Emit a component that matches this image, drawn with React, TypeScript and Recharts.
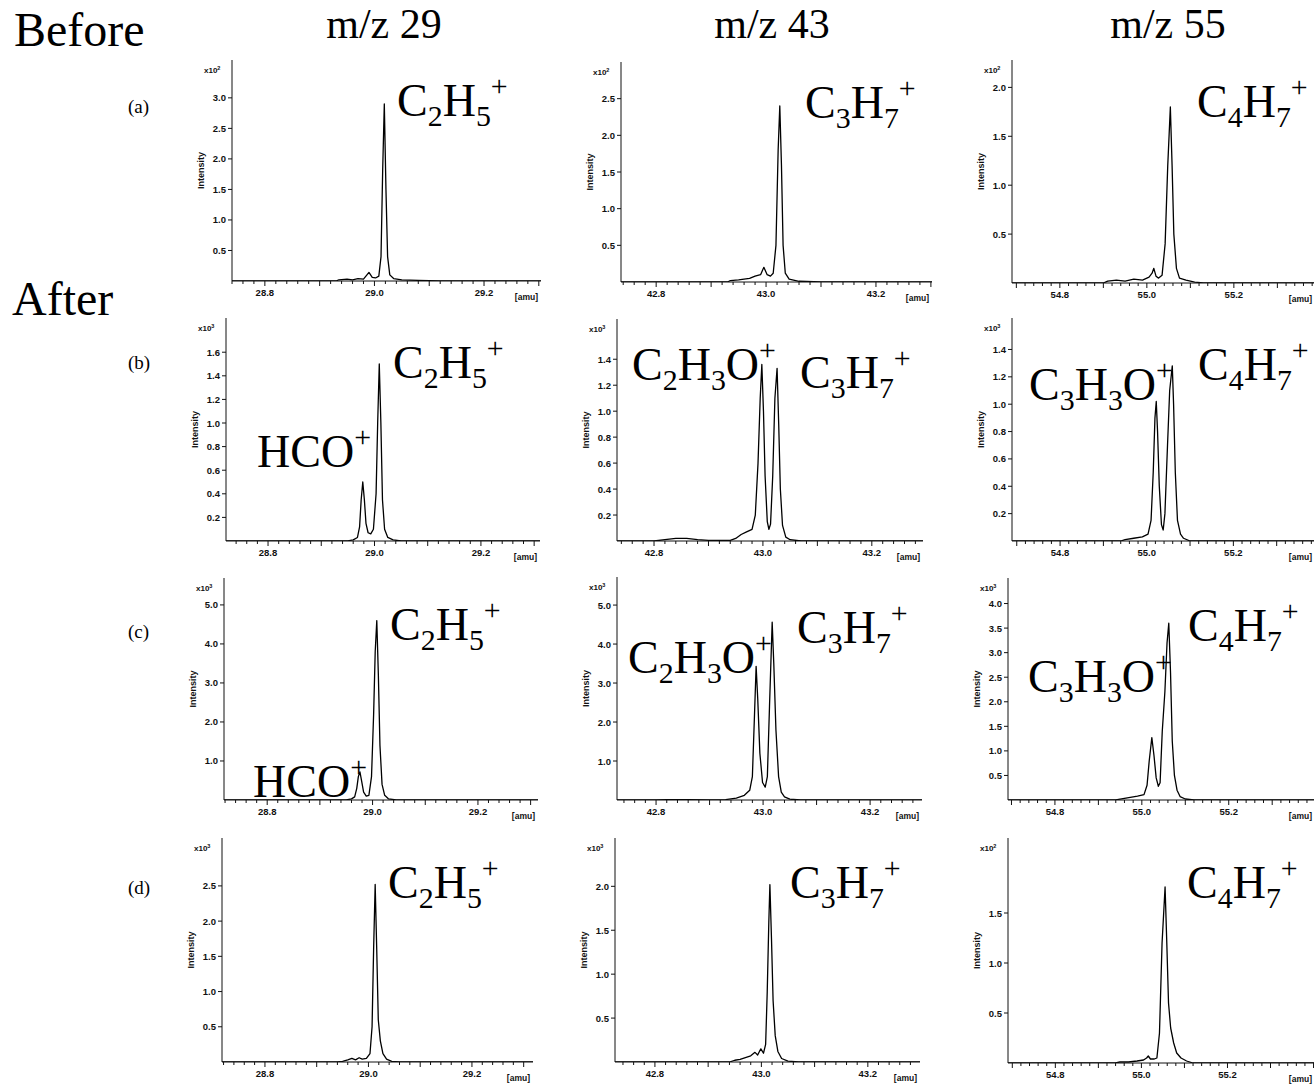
import React from 'react';
import { LineChart, Line, XAxis, YAxis } from 'recharts';

type Pt = [number, number];

// spectra: [mass (amu), intensity]
const a29: Pt[] = [
  [28.74, 0], [28.93, 0], [28.935, 0.02], [28.95, 0.03], [28.96, 0.02], [28.97, 0.04], [28.98, 0.03],
  [28.99, 0.14], [28.996, 0.06], [29.002, 0.05], [29.008, 0.08], [29.012, 0.4], [29.015, 1.8],
  [29.018, 2.9], [29.021, 1.5], [29.024, 0.4], [29.028, 0.1], [29.035, 0.04], [29.05, 0.02],
  [29.08, 0.01], [29.12, 0], [29.304, 0],
];
const a43: Pt[] = [
  [42.736, 0], [42.93, 0], [42.935, 0.02], [42.95, 0.03], [42.96, 0.04], [42.97, 0.05], [42.98, 0.08],
  [42.99, 0.1], [42.996, 0.2], [43.002, 0.1], [43.008, 0.08], [43.013, 0.12], [43.018, 0.5],
  [43.022, 1.8], [43.025, 2.4], [43.028, 1.6], [43.031, 0.5], [43.035, 0.12], [43.042, 0.04],
  [43.06, 0.01], [43.1, 0], [43.302, 0],
];
const a55: Pt[] = [
  [54.69, 0], [54.9, 0], [54.91, 0.02], [54.93, 0.03], [54.95, 0.02], [54.97, 0.04], [54.99, 0.03],
  [55.005, 0.06], [55.012, 0.1], [55.016, 0.15], [55.021, 0.07], [55.027, 0.05], [55.035, 0.08],
  [55.042, 0.4], [55.048, 1.2], [55.054, 1.8], [55.058, 1.2], [55.062, 0.5], [55.068, 0.15],
  [55.075, 0.05], [55.09, 0.03], [55.11, 0.01], [55.13, 0], [55.42, 0],
];
const b29: Pt[] = [
  [28.721, 0], [28.95, 0], [28.96, 0.01], [28.968, 0.03], [28.972, 0.12], [28.975, 0.35], [28.978, 0.5],
  [28.981, 0.35], [28.984, 0.15], [28.988, 0.07], [28.993, 0.06], [28.998, 0.1], [29.003, 0.4],
  [29.006, 1.0], [29.009, 1.5], [29.012, 1.0], [29.015, 0.35], [29.019, 0.1], [29.025, 0.03],
  [29.035, 0.01], [29.05, 0], [29.311, 0],
];
const b43: Pt[] = [
  [42.732, 0], [42.8, 0], [42.82, 0.01], [42.84, 0.02], [42.86, 0.02], [42.88, 0.01], [42.9, 0.005],
  [42.94, 0.005], [42.95, 0.02], [42.96, 0.05], [42.97, 0.07], [42.98, 0.09], [42.986, 0.2],
  [42.991, 0.6], [42.995, 1.1], [42.998, 1.36], [43.001, 1.0], [43.004, 0.5], [43.008, 0.15],
  [43.011, 0.09], [43.014, 0.13], [43.018, 0.5], [43.022, 1.1], [43.026, 1.33], [43.029, 0.9],
  [43.032, 0.4], [43.036, 0.12], [43.042, 0.03], [43.05, 0.01], [43.07, 0], [43.294, 0],
];
const b55: Pt[] = [
  [54.689, 0], [54.94, 0], [54.95, 0.01], [54.97, 0.02], [54.99, 0.03], [55.003, 0.05], [55.01, 0.15],
  [55.015, 0.5], [55.019, 0.9], [55.022, 1.02], [55.025, 0.8], [55.029, 0.4], [55.034, 0.12],
  [55.038, 0.08], [55.042, 0.2], [55.048, 0.7], [55.053, 1.1], [55.059, 1.28], [55.062, 1.0],
  [55.066, 0.5], [55.071, 0.15], [55.078, 0.05], [55.085, 0.02], [55.1, 0], [55.42, 0],
];
const c29: Pt[] = [
  [28.718, 0], [28.95, 0], [28.96, 0.03], [28.966, 0.08], [28.97, 0.3], [28.973, 0.6], [28.976, 0.72],
  [28.979, 0.5], [28.983, 0.2], [28.988, 0.1], [28.993, 0.12], [28.998, 0.6], [29.002, 2.2],
  [29.005, 3.8], [29.008, 4.6], [29.011, 3.2], [29.014, 1.4], [29.018, 0.4], [29.023, 0.12],
  [29.03, 0.03], [29.045, 0], [29.314, 0],
];
const c43: Pt[] = [
  [42.727, 0], [42.8, 0], [42.82, 0.01], [42.86, 0.01], [42.9, 0], [42.93, 0.01], [42.95, 0.05],
  [42.965, 0.12], [42.975, 0.25], [42.98, 0.6], [42.984, 2.2], [42.987, 3.43], [42.99, 2.6],
  [42.994, 1.2], [42.999, 0.45], [43.004, 0.33], [43.008, 0.6], [43.012, 2.4], [43.017, 4.56],
  [43.02, 3.5], [43.024, 1.8], [43.029, 0.6], [43.034, 0.2], [43.04, 0.08], [43.05, 0.02],
  [43.07, 0], [43.297, 0],
];
const c55: Pt[] = [
  [54.692, 0], [54.94, 0], [54.95, 0.02], [54.97, 0.05], [54.99, 0.08], [55.005, 0.11], [55.012, 0.3],
  [55.017, 0.8], [55.023, 1.27], [55.028, 0.9], [55.033, 0.45], [55.038, 0.28], [55.042, 0.35],
  [55.047, 1.4], [55.053, 2.2], [55.058, 3.2], [55.062, 3.6], [55.066, 2.6], [55.07, 1.2],
  [55.075, 0.5], [55.081, 0.2], [55.088, 0.07], [55.1, 0.02], [55.12, 0], [55.42, 0],
];
const d29: Pt[] = [
  [28.717, 0], [28.94, 0], [28.95, 0.01], [28.96, 0.03], [28.968, 0.05], [28.975, 0.03], [28.982, 0.06],
  [28.988, 0.04], [28.996, 0.05], [29.003, 0.12], [29.007, 0.5], [29.01, 1.6], [29.013, 2.52],
  [29.016, 1.6], [29.019, 0.6], [29.023, 0.3], [29.028, 0.12], [29.035, 0.04], [29.045, 0.01],
  [29.06, 0], [29.318, 0],
];
const d43: Pt[] = [
  [42.725, 0], [42.94, 0], [42.95, 0.02], [42.96, 0.03], [42.97, 0.05], [42.98, 0.07], [42.988, 0.11],
  [42.993, 0.08], [42.999, 0.15], [43.004, 0.1], [43.008, 0.2], [43.011, 0.8], [43.014, 1.6],
  [43.016, 2.02], [43.019, 1.4], [43.022, 0.7], [43.026, 0.3], [43.031, 0.12], [43.038, 0.04],
  [43.05, 0.01], [43.07, 0], [43.298, 0],
];
const d55: Pt[] = [
  [54.69, 0], [54.94, 0], [54.95, 0.01], [54.97, 0.01], [54.99, 0.02], [55.005, 0.03], [55.012, 0.05],
  [55.016, 0.07], [55.021, 0.04], [55.03, 0.04], [55.036, 0.05], [55.042, 0.3], [55.048, 1.2],
  [55.055, 1.76], [55.059, 1.2], [55.063, 0.6], [55.068, 0.35], [55.075, 0.2], [55.082, 0.1],
  [55.092, 0.05], [55.105, 0.02], [55.12, 0], [55.42, 0],
];

// tick labels
const ticks29 = [28.8, 29.0, 29.2];
const ticks43 = [42.8, 43.0, 43.2];
const ticks55 = [54.8, 55.0, 55.2];
const yA29 = [0.5, 1.0, 1.5, 2.0, 2.5, 3.0];
const yA43 = [0.5, 1.0, 1.5, 2.0, 2.5];
const yA55 = [0.5, 1.0, 1.5, 2.0];
const yB29 = [0.2, 0.4, 0.6, 0.8, 1.0, 1.2, 1.4, 1.6];
const yB43 = [0.2, 0.4, 0.6, 0.8, 1.0, 1.2, 1.4];
const yB55 = [0.2, 0.4, 0.6, 0.8, 1.0, 1.2, 1.4];
const yC29 = [1.0, 2.0, 3.0, 4.0, 5.0];
const yC43 = [1.0, 2.0, 3.0, 4.0, 5.0];
const yC55 = [0.5, 1.0, 1.5, 2.0, 2.5, 3.0, 3.5, 4.0];
const yD29 = [0.5, 1.0, 1.5, 2.0, 2.5];
const yD43 = [0.5, 1.0, 1.5, 2.0];
const yD55 = [0.5, 1.0, 1.5];

const columnTitles = ['m/z 29', 'm/z 43', 'm/z 55'];
const rowTags = ['(a)', '(b)', '(c)', '(d)'];

const SERIF = '"Liberation Serif", "Times New Roman", Times, serif';
const SANS = '"Liberation Sans", Arial, Helvetica, sans-serif';
const INK = '#111';

type Lbl = { f: string; x: number; y: number };
type Panel = {
  data: Pt[]; L: number; R: number; T: number; B: number;
  x: [number, number]; ymax: number; yt: number[]; xt: number[]; exp: string; labels: Lbl[];
};

const panels: Panel[] = [
  { data: a29, L: 232, R: 541, T: 60, B: 281, x: [28.74, 29.304], ymax: 3.62, yt: yA29, xt: ticks29, exp: '2',
    labels: [{ f: 'C_2H_5^+', x: 397, y: 116 }] },
  { data: a43, L: 621, R: 932, T: 62, B: 282, x: [42.736, 43.302], ymax: 3.0, yt: yA43, xt: ticks43, exp: '2',
    labels: [{ f: 'C_3H_7^+', x: 805, y: 118 }] },
  { data: a55, L: 1012, R: 1320, T: 60, B: 283, x: [54.69, 55.398], ymax: 2.28, yt: yA55, xt: ticks55, exp: '2',
    labels: [{ f: 'C_4H_7^+', x: 1197, y: 117 }] },
  { data: b29, L: 226, R: 540, T: 318, B: 541, x: [28.721, 29.311], ymax: 1.89, yt: yB29, xt: ticks29, exp: '3',
    labels: [{ f: 'C_2H_5^+', x: 393, y: 378 }, { f: 'HCO^+', x: 257, y: 467 }] },
  { data: b43, L: 617, R: 923, T: 319, B: 541, x: [42.732, 43.294], ymax: 1.71, yt: yB43, xt: ticks43, exp: '3',
    labels: [{ f: 'C_2H_3O^+', x: 632, y: 380 }, { f: 'C_3H_7^+', x: 800, y: 388 }] },
  { data: b55, L: 1012, R: 1320, T: 318, B: 541, x: [54.689, 55.4], ymax: 1.63, yt: yB55, xt: ticks55, exp: '3',
    labels: [{ f: 'C_3H_3O^+', x: 1029, y: 400 }, { f: 'C_4H_7^+', x: 1198, y: 380 }] },
  { data: c29, L: 224, R: 538, T: 578, B: 800, x: [28.718, 29.314], ymax: 5.69, yt: yC29, xt: ticks29, exp: '3',
    labels: [{ f: 'C_2H_5^+', x: 390, y: 640 }, { f: 'HCO^+', x: 253, y: 797 }] },
  { data: c43, L: 617, R: 922, T: 577, B: 800, x: [42.727, 43.297], ymax: 5.72, yt: yC43, xt: ticks43, exp: '3',
    labels: [{ f: 'C_2H_3O^+', x: 628, y: 673 }, { f: 'C_3H_7^+', x: 797, y: 643 }] },
  { data: c55, L: 1008, R: 1320, T: 578, B: 800, x: [54.692, 55.41], ymax: 4.52, yt: yC55, xt: ticks55, exp: '3',
    labels: [{ f: 'C_3H_3O^+', x: 1028, y: 692 }, { f: 'C_4H_7^+', x: 1188, y: 641 }] },
  { data: d29, L: 222, R: 533, T: 838, B: 1062, x: [28.717, 29.318], ymax: 3.18, yt: yD29, xt: ticks29, exp: '3',
    labels: [{ f: 'C_2H_5^+', x: 388, y: 898 }] },
  { data: d43, L: 615, R: 920, T: 838, B: 1062, x: [42.725, 43.298], ymax: 2.55, yt: yD43, xt: ticks43, exp: '3',
    labels: [{ f: 'C_3H_7^+', x: 790, y: 898 }] },
  { data: d55, L: 1008, R: 1320, T: 838, B: 1063, x: [54.69, 55.415], ymax: 2.25, yt: yD55, xt: ticks55, exp: '2',
    labels: [{ f: 'C_4H_7^+', x: 1187, y: 898 }] },
];

const near = (a: number, b: number) => Math.abs(a - b) < 1e-6;

function Spectrum({ p }: { p: Panel }) {
  const w = p.R - p.L + 42;
  const h = p.B - p.T + 32;
  const rows = p.data.map(([m, i]) => ({ m, i }));
  const minor: number[] = [];
  for (let n = Math.ceil(p.x[0] * 50); n <= Math.floor(p.x[1] * 50); n++) minor.push(n / 50);

  const bottomTick = (props: any) => {
    const { x, y, payload } = props;
    const v = payload.value;
    const len = Math.round(v * 50) % 5 === 0 ? 5 : 3;
    const show = p.xt.some((t) => near(t, v));
    return (
      <g>
        <line x1={x} x2={x} y1={y} y2={y + len} stroke={INK} />
        {show && (
          <text x={x} y={y + 15} textAnchor="middle" fontSize={9.5} fontWeight="bold" fontFamily={SANS} fill={INK}>
            {v.toFixed(1)}
          </text>
        )}
      </g>
    );
  };
  const topTick = (props: any) => {
    const { x, y, payload } = props;
    const len = Math.round(payload.value * 50) % 5 === 0 ? 4 : 2.5;
    return <line x1={x} x2={x} y1={y} y2={y + len} stroke={INK} />;
  };
  const leftTick = (props: any) => {
    const { x, y, payload } = props;
    return (
      <g>
        <line x1={x - 4} x2={x} y1={y} y2={y} stroke={INK} />
        <text x={x - 6} y={y + 3.5} textAnchor="end" fontSize={9.5} fontWeight="bold" fontFamily={SANS} fill={INK}>
          {payload.value.toFixed(1)}
        </text>
      </g>
    );
  };
  const rightTick = (props: any) => {
    const { x, y } = props;
    return <line x1={x - 3} x2={x} y1={y} y2={y} stroke={INK} />;
  };

  return (
    <div style={{ position: 'absolute', left: p.L - 40, top: p.T - 2 }}>
      <LineChart width={w} height={h} data={rows} margin={{ top: 2, right: 2, bottom: 0, left: 0 }}>
        <XAxis xAxisId="b" type="number" dataKey="m" domain={p.x} ticks={minor} interval={0} allowDataOverflow
          tickSize={0} tickMargin={0} tickLine={false} axisLine={{ stroke: INK }} height={30} tick={bottomTick} />
        <XAxis xAxisId="t" orientation="top" type="number" dataKey="m" domain={p.x} ticks={minor} interval={0}
          allowDataOverflow tickSize={0} tickMargin={0} tickLine={false} axisLine={{ stroke: INK }} height={0} tick={topTick} />
        <YAxis yAxisId="l" type="number" domain={[0, p.ymax]} ticks={p.yt} interval={0} allowDataOverflow
          tickSize={0} tickMargin={0} tickLine={false} axisLine={{ stroke: INK }} width={40} tick={leftTick} />
        <YAxis yAxisId="r" orientation="right" type="number" domain={[0, p.ymax]} ticks={p.yt} interval={0}
          allowDataOverflow tickSize={0} tickMargin={0} tickLine={false} axisLine={{ stroke: INK }} width={0} tick={rightTick} />
        <Line xAxisId="b" yAxisId="l" type="linear" dataKey="i" stroke="#000" strokeWidth={1.3}
          strokeLinejoin="round" dot={false} isAnimationActive={false} />
        <Line xAxisId="t" yAxisId="r" type="linear" dataKey="i" stroke="none" dot={false} isAnimationActive={false} />
      </LineChart>
    </div>
  );
}

function Formula({ f, x, y, size = 46 }: { f: string; x: number; y: number; size?: number }) {
  const parts: { t: string; k: 'n' | 'sub' | 'sup' }[] = [];
  for (let i = 0; i < f.length; i++) {
    if (f[i] === '_') parts.push({ t: f[++i], k: 'sub' });
    else if (f[i] === '^') parts.push({ t: f[++i], k: 'sup' });
    else parts.push({ t: f[i], k: 'n' });
  }
  let cur = 0;
  return (
    <text x={x} y={y} fontFamily={SERIF} fontSize={size} fill="#000">
      {parts.map((pt, i) => {
        const target = pt.k === 'sub' ? 10 : pt.k === 'sup' ? -20 : 0;
        const dy = target - cur;
        cur = target;
        return (
          <tspan key={i} dy={dy} fontSize={pt.k === 'n' ? size : size * 0.65}>
            {pt.t}
          </tspan>
        );
      })}
    </text>
  );
}

export default function App() {
  const titleX = [384, 772, 1168];
  const tagY = [113, 369, 638, 894];
  return (
    <div style={{ position: 'absolute', left: 0, top: 0, width: 1314, height: 1087, overflow: 'hidden', background: '#fff' }}>
      {panels.map((p, i) => (
        <Spectrum key={i} p={p} />
      ))}
      <svg width={1314} height={1087} style={{ position: 'absolute', left: 0, top: 0, pointerEvents: 'none' }}>
        {columnTitles.map((t, i) => (
          <text key={t} x={titleX[i]} y={38} textAnchor="middle" fontFamily={SERIF} fontSize={42}>
            {t}
          </text>
        ))}
        <text x={14} y={46} fontFamily={SERIF} fontSize={48}>Before</text>
        <text x={12} y={315} fontFamily={SERIF} fontSize={48}>After</text>
        {rowTags.map((t, i) => (
          <text key={t} x={128} y={tagY[i]} fontFamily={SERIF} fontSize={19}>
            {t}
          </text>
        ))}
        {panels.map((p, i) => (
          <g key={i}>
            <text x={p.L - 28} y={p.T + 13} fontFamily={SANS} fontSize={8} fontWeight="bold" fill={INK}>
              x10<tspan dy={-3} fontSize={5.5}>{p.exp}</tspan>
            </text>
            <text transform={`translate(${p.L - 28}, ${(p.T + p.B) / 2}) rotate(-90)`} textAnchor="middle"
              fontFamily={SANS} fontSize={9} fontWeight="bold" fill={INK}>
              Intensity
            </text>
            <text x={Math.min(p.R - 3, 1312)} y={p.B + 19} textAnchor="end" fontFamily={SANS} fontSize={8.5}
              fontWeight="bold" fill={INK}>
              [amu]
            </text>
            {p.labels.map((l, j) => (
              <Formula key={j} f={l.f} x={l.x} y={l.y} />
            ))}
          </g>
        ))}
      </svg>
    </div>
  );
}
